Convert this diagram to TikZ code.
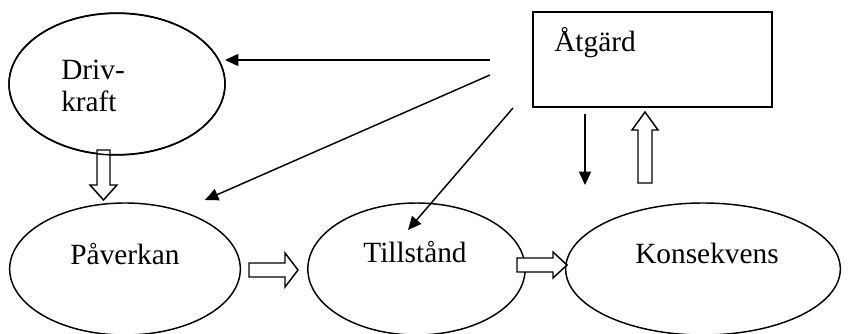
\documentclass[tikz,border=0pt]{standalone}
\usepackage{fontspec}
\setmainfont{Liberation Serif}
\usetikzlibrary{shapes.geometric,arrows.meta}
\begin{document}
\begin{tikzpicture}[x=0.75pt,y=-0.75pt,
  ell/.style={draw,ellipse,line width=1.1pt,inner sep=0pt},
  txt/.style={font=\fontsize{22}{24}\selectfont,inner sep=0pt},
  thin/.style={line width=1.1pt,-{Triangle[length=10pt,width=9pt]}},
  hollow/.style={draw,fill=white,line width=1.1pt,line join=miter}]
\useasboundingbox (0,0) rectangle (851,334);
% nodes
\node[ell,minimum width=162pt,minimum height=106pt] (drv) at (117,84) {};
\node[txt,align=left,anchor=west] (drvt) at (61,86) {Driv-\\kraft};
\node[draw,line width=1.1pt,minimum width=179pt,minimum height=71pt,inner sep=0pt] (atg) at (652.5,59.5) {};
\node[txt,anchor=west] (atgt) at (554,43) {Åtgärd};
\node[ell,minimum width=173pt,minimum height=99pt] (pav) at (125,269) {};
\node[txt] (pavt) at (125,254) {Påverkan};
\node[ell,minimum width=163pt,minimum height=99pt] (til) at (416.5,269) {};
\node[txt] (tilt) at (415,252) {Tillstånd};
\node[ell,minimum width=206pt,minimum height=99pt] (kon) at (703,269) {};
\node[txt] (kont) at (707,253) {Konsekvens};
% connector start points
\coordinate (s1) at (490,60);
\coordinate (s2) at (490,75);
\coordinate (s3) at (513,108);
\coordinate (s4) at (585,114);
\coordinate (e4) at (585,185);
\coordinate (e1) at (225,60);
\coordinate (e2) at (205,200);
\coordinate (e3) at (408,230);
\draw[thin] (s1) -- (e1);
\draw[thin] (s2) -- (e2);
\draw[thin] (s3) -- (e3);
\draw[thin] (s4) -- (e4);
% hollow block arrows
\draw[hollow] (97,150) -- (110,150) -- (110,185) -- (117,185) -- (103.5,200) -- (90,185) -- (97,185) -- cycle;
\draw[hollow] (249,263) -- (285,263) -- (285,253) -- (298,270) -- (285,287) -- (285,277) -- (249,277) -- cycle;
\draw[hollow] (517,258) -- (553,258) -- (553,252) -- (567,265) -- (553,278) -- (553,272) -- (517,272) -- cycle;
\draw[hollow] (638,183) -- (638,130) -- (632,130) -- (645,112) -- (658,130) -- (652,130) -- (652,183) -- cycle;
% redraw ellipse border over arrow tail
\draw[line width=1.1pt] (drv.center) ellipse[x radius=108, y radius=71];
\end{tikzpicture}
\end{document}
